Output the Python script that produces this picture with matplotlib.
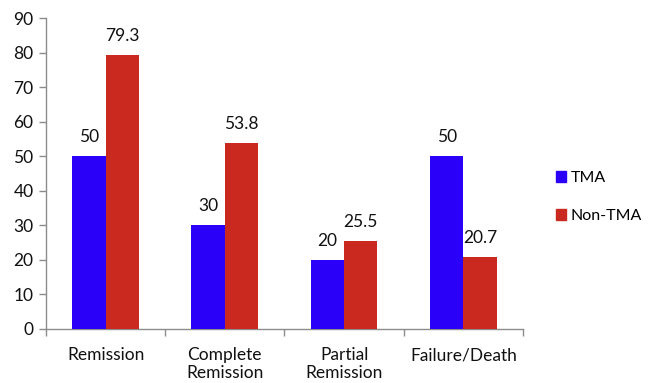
import matplotlib
matplotlib.use("Agg")
import matplotlib.pyplot as plt
import numpy as np
from matplotlib.patches import Patch

categories = ["Remission", "Complete\nRemission", "Partial\nRemission", "Failure/Death"]
series_names = ["TMA", "Non-TMA"]
tma = [50, 30, 20, 50]
non_tma = [79.3, 53.8, 25.5, 20.7]
tma_labels = ["50", "30", "20", "50"]
non_tma_labels = ["79.3", "53.8", "25.5", "20.7"]
yticks = [0, 10, 20, 30, 40, 50, 60, 70, 80, 90]

blue = "#2A00F8"
red = "#C9291E"
axis_gray = "#8C8C8C"
text_color = "#111111"
fs = 12.5

plt.rcParams["font.family"] = ["Lato", "DejaVu Sans"]

fig = plt.figure(figsize=(6.48, 3.83), dpi=100)
ax = fig.add_axes([0.071, 0.141, 0.736, 0.812])

x = np.arange(len(categories))
w = 0.28
b1 = ax.bar(x - w / 2, tma, w, color=blue, zorder=3)
b2 = ax.bar(x + w / 2, non_tma, w, color=red, zorder=3)

for bars, labels in ((b1, tma_labels), (b2, non_tma_labels)):
    for rect, lab in zip(bars, labels):
        ax.annotate(lab, (rect.get_x() + rect.get_width() / 2, rect.get_height()),
                    xytext=(0, 8), textcoords="offset points",
                    ha="center", va="bottom", fontsize=fs, color=text_color)

ax.set_xlim(-0.5, len(categories) - 0.5)
ax.set_ylim(0, 90)
ax.set_yticks(yticks)
ax.set_yticklabels([str(v) for v in yticks], fontsize=fs, color=text_color)

# category labels centered, tick marks at group boundaries
ax.set_xticks(x)
ax.set_xticklabels(categories, fontsize=fs, color=text_color, linespacing=1.15)
ax.tick_params(axis="x", length=0, pad=13)
ax.set_xticks(np.arange(len(categories) + 1) - 0.5, minor=True)
ax.tick_params(axis="x", which="minor", length=5, color=axis_gray, width=1)
ax.tick_params(axis="y", length=5, color=axis_gray, width=1, pad=4)

for s in ("top", "right"):
    ax.spines[s].set_visible(False)
for s in ("left", "bottom"):
    ax.spines[s].set_color(axis_gray)
    ax.spines[s].set_linewidth(1)

handles = [Patch(color=blue), Patch(color=red)]
fig.legend(handles, series_names, loc="center left", bbox_to_anchor=(0.836, 0.485),
           frameon=False, fontsize=11.5, handlelength=0.65, handleheight=0.65,
           handletextpad=0.25, labelspacing=1.5)

fig.savefig("out.png", dpi=100)
